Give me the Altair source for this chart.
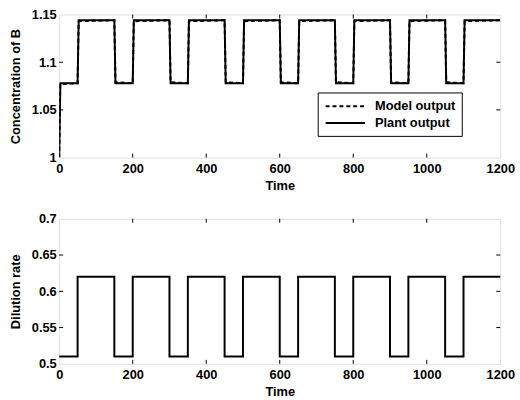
import altair as alt
import pandas as pd

# Top panel data (plant output / model output)
time_b = [0, 3, 50, 53, 150, 153, 200, 203, 300, 303, 350, 353, 450, 453, 500, 503,
          600, 603, 650, 653, 750, 753, 800, 803, 900, 903, 950, 953, 1050, 1053, 1100, 1103, 1200]
conc_plant = [1.000, 1.078, 1.078, 1.144, 1.144, 1.078, 1.078, 1.144, 1.144, 1.078, 1.078,
              1.144, 1.144, 1.078, 1.078, 1.144, 1.144, 1.078, 1.078, 1.144, 1.144, 1.078,
              1.078, 1.144, 1.144, 1.078, 1.078, 1.144, 1.144, 1.078, 1.078, 1.144, 1.144]
conc_model = [1.000, 1.077, 1.078, 1.143, 1.144, 1.079, 1.078, 1.143, 1.144, 1.079, 1.078,
              1.143, 1.144, 1.079, 1.078, 1.143, 1.144, 1.079, 1.078, 1.143, 1.144, 1.079,
              1.078, 1.143, 1.144, 1.079, 1.078, 1.143, 1.144, 1.079, 1.078, 1.143, 1.144]

# Bottom panel data
time_d = [0, 50, 50, 150, 150, 200, 200, 300, 300, 350, 350, 450, 450, 500, 500, 600, 600,
          650, 650, 750, 750, 800, 800, 900, 900, 950, 950, 1050, 1050, 1100, 1100, 1200]
dilution = [0.51, 0.51, 0.62, 0.62, 0.51, 0.51, 0.62, 0.62, 0.51, 0.51, 0.62, 0.62, 0.51, 0.51,
            0.62, 0.62, 0.51, 0.51, 0.62, 0.62, 0.51, 0.51, 0.62, 0.62, 0.51, 0.51, 0.62, 0.62,
            0.51, 0.51, 0.62, 0.62]

x_ticks = [0, 200, 400, 600, 800, 1000, 1200]
y_ticks_top = [1, 1.05, 1.1, 1.15]
y_ticks_bot = [0.5, 0.55, 0.6, 0.65, 0.7]
series_names = ["Model output", "Plant output"]

W, H = 447, 145
FONT = "Liberation Sans"
FS = 13

df_top = pd.concat([
    pd.DataFrame({"Time": time_b, "val": conc_model, "series": series_names[0], "i": range(len(time_b))}),
    pd.DataFrame({"Time": time_b, "val": conc_plant, "series": series_names[1], "i": range(len(time_b))}),
])
df_bot = pd.DataFrame({"Time": time_d, "val": dilution, "i": range(len(time_d))})

xscale = alt.Scale(domain=[0, 1200], nice=False, zero=False)


def xaxis():
    return alt.Axis(values=x_ticks, title="Time", grid=False, domain=False, ticks=False, format="d",
                    labelFont=FONT, labelFontWeight="bold", labelFontSize=FS, labelColor="black",
                    titleFont=FONT, titleFontWeight="bold", titleFontSize=FS, titleColor="black",
                    labelPadding=5, titlePadding=4, labelFlush=False, labelOverlap=False)


def yaxis(title, vals):
    return alt.Axis(values=vals, title=title, grid=False, domain=False, ticks=False, format="~g",
                    labelFont=FONT, labelFontWeight="bold", labelFontSize=FS, labelColor="black",
                    titleFont=FONT, titleFontWeight="bold", titleFontSize=FS, titleColor="black",
                    labelPadding=3, titlePadding=9, labelFlush=False, labelOverlap=False)


def tick_layers(yvals, ydom, h, ytitle):
    ys = alt.Scale(domain=ydom, nice=False, zero=False)
    xt = pd.DataFrame({"t": x_ticks[1:-1]})
    yt = pd.DataFrame({"v": yvals[1:-1]})
    layers = []
    for a, b in [(h, h - 4), (0, 4)]:
        layers.append(alt.Chart(xt).mark_rule(color="black", strokeWidth=1).encode(
            x=alt.X("t:Q", scale=xscale, axis=xaxis()), y=alt.value(a), y2=alt.value(b)))
    for a, b in [(0, 4), (W, W - 4)]:
        layers.append(alt.Chart(yt).mark_rule(color="black", strokeWidth=1).encode(
            y=alt.Y("v:Q", scale=ys, axis=yaxis(ytitle, yvals)), x=alt.value(a), x2=alt.value(b)))
    return layers


legend_cfg = dict(title=None, orient="none", legendX=262, legendY=79,
                  symbolType="M-3,0L3,0", symbolSize=178, symbolStrokeWidth=2,
                  symbolOffset=14, labelOffset=22,
                  labelFont=FONT, labelFontWeight="bold", labelFontSize=FS,
                  labelColor="black", strokeColor="black", fillColor="white",
                  padding=6, rowPadding=2)

ydom_top = [1, 1.15]
yscale_top = alt.Scale(domain=ydom_top, nice=False, zero=False)
ytitle_top = "Concentration of B"

lines_top = alt.Chart(df_top).mark_line(strokeWidth=2, clip=True).encode(
    x=alt.X("Time:Q", scale=xscale, axis=xaxis()),
    y=alt.Y("val:Q", scale=yscale_top, axis=yaxis(ytitle_top, y_ticks_top)),
    color=alt.Color("series:N", scale=alt.Scale(domain=series_names, range=["black", "black"]),
                    legend=alt.Legend(**legend_cfg)),
    strokeDash=alt.StrokeDash("series:N", scale=alt.Scale(domain=series_names, range=[[4, 3], [1, 0]]),
                              legend=alt.Legend(**legend_cfg)),
    order=alt.Order("i:Q"),
    detail="series:N",
)

top = alt.layer(lines_top, *tick_layers(y_ticks_top, ydom_top, H, ytitle_top)).properties(width=W, height=H)

HB = 147
ydom_bot = [0.5, 0.7]
yscale_bot = alt.Scale(domain=ydom_bot, nice=False, zero=False)
ytitle_bot = "Dilution rate"
lines_bot = alt.Chart(df_bot).mark_line(strokeWidth=2, color="black").encode(
    x=alt.X("Time:Q", scale=xscale, axis=xaxis()),
    y=alt.Y("val:Q", scale=yscale_bot, axis=yaxis(ytitle_bot, y_ticks_bot)),
    order=alt.Order("i:Q"),
)
bot = alt.layer(lines_bot, *tick_layers(y_ticks_bot, ydom_bot, HB, ytitle_bot)).properties(width=W, height=HB)

chart = alt.vconcat(top, bot, spacing=19).properties(
    padding={"left": 9, "top": 5, "right": 5, "bottom": 2}
).configure_view(stroke="black", strokeWidth=1).configure(background="white")

chart.save("out.html", embed_options={"renderer": "svg", "actions": False})
